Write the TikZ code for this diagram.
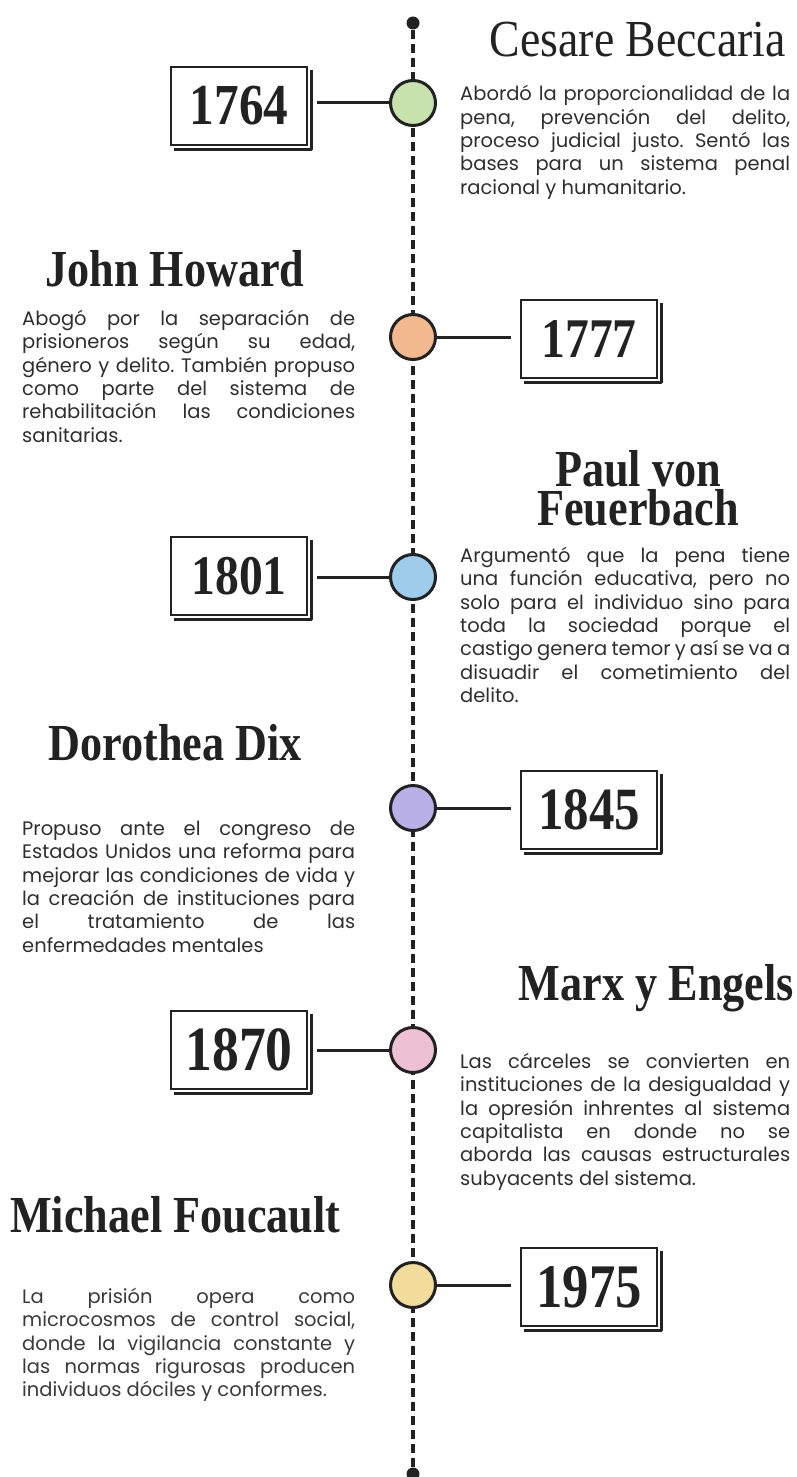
\documentclass[tikz,border=0pt]{standalone}
\usepackage{fontspec}
\usepackage{graphicx}
\setmainfont{Liberation Serif}
\newfontfamily\bodyf{Poppins}
\definecolor{ink}{HTML}{222222}
\definecolor{txt}{HTML}{2E2E2E}
\definecolor{txtb}{HTML}{3A3A3A}
\definecolor{cgreen}{HTML}{C8E2AE}
\definecolor{corange}{HTML}{F2B98E}
\definecolor{cblue}{HTML}{9DCDEA}
\definecolor{cpurple}{HTML}{B8B0E6}
\definecolor{cpink}{HTML}{EEC0D4}
\definecolor{cyellow}{HTML}{F2DC9B}
\newcommand\rjl[1]{\hbox to 330pt{#1}}
\newcommand\ljl[1]{\hbox to 333pt{#1}}
\newcommand\nlj[1]{\hbox{#1}}
\newcommand\yr[2]{\scalebox{0.85}[1]{\bfseries\fontsize{#1}{#1}\selectfont #2}}
\newcommand\ttl[1]{\scalebox{0.85}[1]{\bfseries\fontsize{52}{52}\selectfont #1}}
\begin{document}
\begin{tikzpicture}[x=1pt,y=-1pt,
  timeline/.style={ink,line width=3.5pt,dash pattern=on 9pt off 5pt},
  enddot/.style={circle,fill=ink,inner sep=0pt,minimum size=13pt},
  dotc/.style={circle,draw=ink,line width=3pt,minimum size=45pt,inner sep=0pt},
  yearbox/.style={draw=ink,line width=2.2pt,minimum width=136pt,minimum height=78pt,inner sep=0pt,text=ink},
  shadowline/.style={ink,line width=3pt,line join=round},
  conn/.style={ink,line width=3pt},
  body/.style={inner sep=0pt,text=txt,font=\bodyf\frenchspacing\fontsize{19.5}{23.3}\selectfont},
  title/.style={inner sep=0pt,text=ink}]
\useasboundingbox (0,0) rectangle (797,1477);
% timeline
\node[enddot] (top) at (413,23) {};
\node[enddot] (bot) at (413,1474) {};
\draw[timeline] (top) -- (bot);
% circles
\node[dotc,fill=cgreen] (c1) at (413,103) {};
\node[dotc,fill=corange] (c2) at (413,337) {};
\node[dotc,fill=cblue] (c3) at (413,577) {};
\node[dotc,fill=cpurple] (c4) at (413,808) {};
\node[dotc,fill=cpink] (c5) at (413,1050) {};
\node[dotc,fill=cyellow] (c6) at (413,1285) {};
% year boxes
\node[yearbox] (b1) at (239,106) {\yr{58}{1764}};
\node[yearbox] (b2) at (589,339) {\yr{56}{1777}};
\node[yearbox] (b3) at (239,576) {\yr{56}{1801}};
\node[yearbox] (b4) at (589,810) {\yr{60}{1845}};
\node[yearbox] (b5) at (239,1050) {\yr{63}{1870}};
\node[yearbox] (b6) at (589,1287) {\yr{62}{1975}};
\foreach \b in {b1,b2,b3,b4,b5,b6}{
  \draw[shadowline] ([xshift=3.5pt,yshift=-4pt]\b.north east) -- ([xshift=3.5pt,yshift=-3.5pt]\b.south east) -- ([xshift=4pt,yshift=-3.5pt]\b.south west);
}
% connectors
\draw[conn,shorten <=9pt] (c1.west -| b1.east) -- (c1.west);
\draw[conn,shorten >=9pt] (c2.east) -- (c2.east -| b2.west);
\draw[conn,shorten <=9pt] (c3.west -| b3.east) -- (c3.west);
\draw[conn,shorten >=9pt] (c4.east) -- (c4.east -| b4.west);
\draw[conn,shorten <=9pt] (c5.west -| b5.east) -- (c5.west);
\draw[conn,shorten >=9pt] (c6.east) -- (c6.east -| b6.west);
% titles
\node[title,anchor=base east] (n1) at (786,57) {\scalebox{0.88}[1]{\fontsize{52}{52}\selectfont Cesare Beccaria}};
\node[title,anchor=base] (n2) at (175,286) {\ttl{John Howard}};
\node[title,anchor=north,align=center,font=\fontsize{52}{39}\selectfont] (n3) at (638,450) {\ttl{Paul von}\\\ttl{Feuerbach}};
\node[title,anchor=base] (n4) at (175,760) {\ttl{Dorothea Dix}};
\node[title,anchor=base east] (n5) at (794,1000) {\ttl{Marx y Engels}};
\node[title,anchor=base west] (n6) at (10,1232) {\ttl{Michael Foucault}};
% texts
\node[body,anchor=base west] (t1) at (460,101) {\vtop{%
\rjl{Abordó la proporcionalidad de la}
\rjl{pena, prevención del delito,}
\rjl{proceso judicial justo. Sentó las}
\rjl{bases para un sistema penal}
\nlj{racional y humanitario.}}};
\node[body,anchor=base west] (t2) at (22,325.5) {\vtop{%
\ljl{Abogó por la separación de}
\ljl{prisioneros según su edad,}
\ljl{género y delito. También propuso}
\ljl{como parte del sistema de}
\ljl{rehabilitación las condiciones}
\nlj{sanitarias.}}};
\node[body,anchor=base west] (t3) at (460,562.5) {\vtop{%
\rjl{Argumentó que la pena tiene}
\rjl{una función educativa, pero no}
\rjl{solo para el individuo sino para}
\rjl{toda la sociedad porque el}
\rjl{castigo genera temor y así se va a}
\rjl{disuadir el cometimiento del}
\nlj{delito.}}};
\node[body,anchor=base west] (t4) at (22,835.5) {\vtop{%
\ljl{Propuso ante el congreso de}
\ljl{Estados Unidos una reforma para}
\ljl{mejorar las condiciones de vida y}
\ljl{la creación de instituciones para}
\ljl{el tratamiento de las}
\nlj{enfermedades mentales}}};
\node[body,anchor=base west] (t5) at (460,1068.5) {\vtop{%
\rjl{Las cárceles se convierten en}
\rjl{instituciones de la desigualdad y}
\rjl{la opresión inhrentes al sistema}
\rjl{capitalista en donde no se}
\rjl{aborda las causas estructurales}
\nlj{subyacents del sistema.}}};
\node[body,text=txtb,anchor=base west] (t6) at (22,1303.5) {\vtop{%
\ljl{La prisión opera como}
\ljl{microcosmos de control social,}
\ljl{donde la vigilancia constante y}
\ljl{las normas rigurosas producen}
\nlj{individuos dóciles y conformes.}}};
\end{tikzpicture}
\end{document}
